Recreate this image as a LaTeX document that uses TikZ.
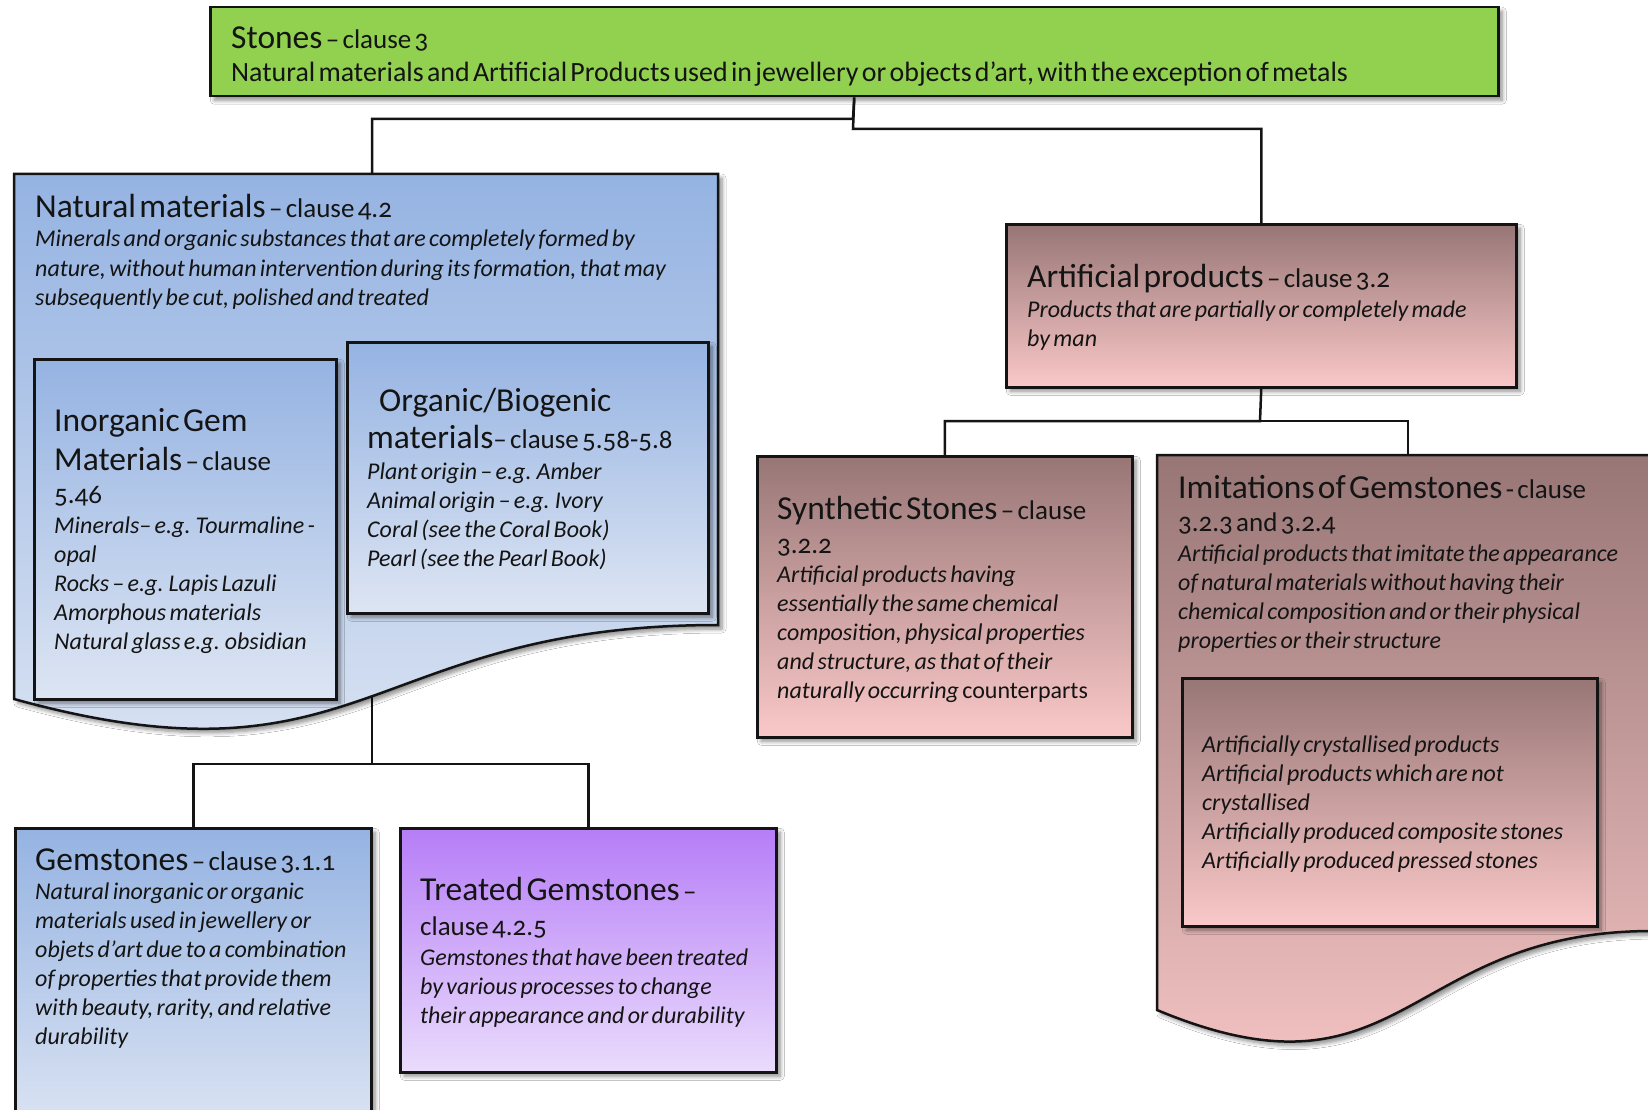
\documentclass[tikz,border=0pt]{standalone}
\usepackage{fontspec}
\setmainfont{Carlito}
\usetikzlibrary{shadows.blur}
\setlength\parindent{0pt}
\definecolor{grn}{RGB}{146,208,80}
\definecolor{bluetop}{RGB}{149,179,226}
\definecolor{bluebot}{RGB}{221,229,243}
\definecolor{pinktop}{RGB}{152,118,118}
\definecolor{pinkbot}{RGB}{250,200,200}
\definecolor{purtop}{RGB}{182,125,247}
\definecolor{purbot}{RGB}{234,220,252}
\definecolor{ink}{RGB}{20,20,20}
\newcommand\Cl[1]{{\fontsize{27}{38}\selectfont\addfontfeatures{Numbers=OldStyle}#1}}
\newcommand\LN[2]{{\fontsize{33.5}{#1}\selectfont #2\par}}
\newcommand\BD[2]{{\fontsize{24}{#1}\selectfont\itshape #2\par}}
\tikzset{
  shd/.style={blur shadow={shadow xshift=4pt,shadow yshift=-4pt,shadow blur radius=4pt,shadow blur steps=6,shadow opacity=45}},
  box/.style={shd,draw=ink,line width=2.5pt,anchor=north west,inner sep=0pt,rectangle},
  bluebox/.style={box,top color=bluetop,bottom color=bluebot},
  pinkbox/.style={box,top color=pinktop,bottom color=pinkbot},
  txt/.style={anchor=base west,inner sep=0pt,text width=#1,align=left,text=ink},
  conn/.style={draw=ink,line width=2.5pt}
}
\begin{document}
\begin{tikzpicture}[x=1pt,y=-1pt]
\useasboundingbox (0,0) rectangle (1648,1110);
\fill[white] (0,0) rectangle (1648,1110);

% invisible anchor nodes for the two document shapes
\node[anchor=north west,inner sep=0pt,minimum width=704pt,minimum height=562pt] (natural) at (14,174) {};
\node[anchor=north west,inner sep=0pt,minimum width=495pt,minimum height=594pt] (imit) at (1157,455) {};

% connector points
\coordinate (j1) at (853,119);
\coordinate (j2) at (853,129);
\coordinate (natTop) at (372,174);
\coordinate (natBot) at (372,690);
\coordinate (j3) at (372,764);
\coordinate (j4) at (1260,421);
\coordinate (imitTop) at (1408,455);

% boxes (nodes for connectors)
\node[box,fill=grn,minimum width=1288pt,minimum height=89pt] (stones) at (209,6) {};
\node[pinkbox,minimum width=510pt,minimum height=163pt] (artificial) at (1005,223) {};
\node[pinkbox,minimum width=375pt,minimum height=281pt] (synth) at (756,455) {};
\node[bluebox,minimum width=356pt,minimum height=310pt] (gem) at (14,827) {};
\node[box,top color=purtop,bottom color=purbot,minimum width=376pt,minimum height=244pt] (treated) at (399,827) {};

% connectors
\draw[conn] (stones.south) -- (j1) -| (natTop);
\draw[conn] (stones.south) -- (j2) -| (artificial.north);
\draw[conn] (natBot) -- (j3) -| (gem.north);
\draw[conn] (j3) -| (treated.north);
\draw[conn] (artificial.south) -- (j4) -| (synth.north);
\draw[conn] (j4) -| (imitTop);

% document shapes
\path[shd,draw=ink,line width=2.5pt,top color=bluetop,bottom color=bluebot]
  (14,174) -- (718,174) -- (718,625) .. controls (366,625) and (366,796) .. (14,699) -- cycle;
\path[shd,draw=ink,line width=2.5pt,top color=pinktop,bottom color=pinkbot]
  (1157,455) -- (1652,455) -- (1652,931) .. controls (1404,931) and (1404,1113) .. (1157,1010) -- cycle;

\node[bluebox,minimum width=302pt,minimum height=340pt] (inorg) at (33,358) {};
\node[bluebox,minimum width=361pt,minimum height=271pt] (org) at (346,341) {};
\node[pinkbox,minimum width=415pt,minimum height=248pt] (inner) at (1181,677) {};

% texts
\node[txt=1270pt] (tStones) at (231,49) {%
  \LN{38}{Stones \Cl{– clause 3}}
  {\fontsize{27.9}{33}\selectfont Natural materials and Artificial Products used in jewellery or objects d’art, with the exception of metals\par}};

\node[txt=690pt] (tNatural) at (35,217) {%
  \LN{38}{Natural materials \Cl{– clause 4.2}}
  \BD{29.5}{Minerals and organic substances that are completely formed by}
  \BD{29.5}{nature, without human intervention during its formation, that may}
  \BD{29.5}{subsequently be cut, polished and treated}};

\node[txt=290pt] (tInorg) at (54,431) {%
  \LN{38}{Inorganic Gem}
  \LN{39}{Materials \Cl{– clause}}
  \LN{33}{\Cl{5.46}}
  \BD{30}{Minerals– e.g. Tourmaline -}
  \BD{29}{opal}
  \BD{29}{Rocks – e.g. Lapis Lazuli}
  \BD{29}{Amorphous materials}
  \BD{29}{Natural glass e.g. obsidian}};

\node[txt=350pt] (tOrg) at (367,411) {%
  \LN{38}{\hspace*{12pt}Organic/Biogenic}
  \LN{37}{materials\Cl{– clause 5.58-5.8}}
  \BD{31}{Plant origin – e.g. Amber}
  \BD{29}{Animal origin – e.g. Ivory}
  \BD{29}{Coral (see the Coral Book)}
  \BD{29}{Pearl (see the Pearl Book)}};

\node[txt=340pt] (tGem) at (35,870) {%
  \LN{38}{Gemstones \Cl{– clause 3.1.1}}
  \BD{29}{Natural inorganic or organic}
  \BD{29}{materials used in jewellery or}
  \BD{29}{objets d’art due to a combination}
  \BD{29}{of properties that provide them}
  \BD{29}{with beauty, rarity, and relative}
  \BD{29}{durability}};

\node[txt=350pt] (tTreated) at (420,900) {%
  \LN{38}{Treated Gemstones \Cl{–}}
  \LN{35}{\Cl{clause 4.2.5}}
  \BD{30}{Gemstones that have been treated}
  \BD{29}{by various processes to change}
  \BD{29}{their appearance and or durability}};

\node[txt=480pt] (tArt) at (1027,287) {%
  \LN{38}{Artificial products \Cl{– clause 3.2}}
  \BD{30}{Products that are partially or completely made}
  \BD{29}{by man}};

\node[txt=350pt] (tSynth) at (777,519) {%
  \LN{38}{Synthetic Stones \Cl{– clause}}
  \LN{34}{\Cl{3.2.2}}
  \BD{29}{Artificial products having}
  \BD{29}{essentially the same chemical}
  \BD{29}{composition, physical properties}
  \BD{29}{and structure, as that of their}
  \BD{29}{naturally occurring \upshape counterparts}};

\node[txt=470pt] (tImit) at (1178,498) {%
  \LN{38}{Imitations of Gemstones \Cl{- clause}}
  \LN{33}{\Cl{3.2.3 and 3.2.4}}
  \BD{30}{Artificial products that imitate the appearance}
  \BD{29}{of natural materials without having their}
  \BD{29}{chemical composition and or their physical}
  \BD{29}{properties or their structure}};

\node[txt=390pt] (tInner) at (1202,752) {%
  \BD{29}{Artificially crystallised products}
  \BD{29}{Artificial products which are not}
  \BD{29}{crystallised}
  \BD{29}{Artificially produced composite stones}
  \BD{29}{Artificially produced pressed stones}};
\end{tikzpicture}
\end{document}
